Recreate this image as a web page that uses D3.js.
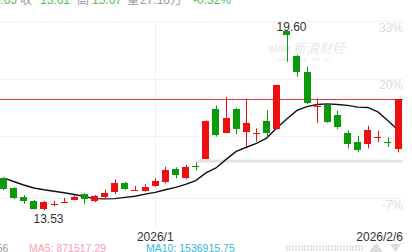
<!DOCTYPE html>
<html>
<head>
<meta charset="utf-8">
<script src="https://cdn.jsdelivr.net/npm/d3@7"></script>
<style>
html, body { margin: 0; padding: 0; background: #fff; overflow: hidden; }
svg { display: block; font-family: Arial, "Liberation Sans", "Noto Sans CJK SC", sans-serif; }
</style>
</head>
<body>
<script>
// trading days shown (40 sessions)
const dates = [
    "2025-12-11", "2025-12-12", "2025-12-15", "2025-12-16", "2025-12-17", "2025-12-18", "2025-12-19",
    "2025-12-22", "2025-12-23", "2025-12-24", "2025-12-25", "2025-12-26", "2025-12-29", "2025-12-30", "2025-12-31",
    "2026-01-05", "2026-01-06", "2026-01-07", "2026-01-08", "2026-01-09", "2026-01-12", "2026-01-13", "2026-01-14",
    "2026-01-15", "2026-01-16", "2026-01-19", "2026-01-20", "2026-01-21", "2026-01-22", "2026-01-23", "2026-01-26",
    "2026-01-27", "2026-01-28", "2026-01-29", "2026-01-30", "2026-02-02", "2026-02-03", "2026-02-04", "2026-02-05",
    "2026-02-06"
];
const open = [14.62, 14.29, 13.98, 13.85, 13.58, 13.73, 13.81, 13.88, 14.09, 13.85, 13.99, 14.13, 14.47, 14.20, 14.20,
    14.37, 14.50, 14.93, 14.62, 15.05, 15.27, 16.97, 16.16, 16.97, 16.20, 16.15, 16.56, 16.28, 19.60, 18.77,
    18.21, 17.05, 17.10, 16.76, 16.16, 15.86, 15.77, 16.02, 15.84, 15.61];
const high = [14.63, 14.32, 14.05, 13.88, 13.85, 13.86, 13.95, 14.05, 14.11, 14.05, 14.24, 14.58, 14.50, 14.36, 14.42,
    14.62, 15.01, 14.99, 15.07, 15.16, 16.58, 17.09, 17.38, 17.00, 17.31, 16.31, 16.93, 17.79, 19.60, 18.80,
    18.40, 17.33, 17.12, 16.91, 16.25, 16.06, 16.40, 16.23, 16.00, 17.31];
const low = [14.22, 13.92, 13.75, 13.56, 13.53, 13.66, 13.78, 13.87, 13.74, 13.81, 13.94, 14.08, 14.22, 14.20, 14.16,
    14.33, 14.45, 14.62, 14.59, 14.88, 15.26, 16.03, 16.14, 16.11, 15.69, 15.86, 16.03, 16.27, 18.57, 18.06,
    17.13, 16.49, 16.50, 16.29, 15.63, 15.50, 15.63, 15.84, 15.68, 15.50];
const close = [14.25, 13.95, 13.85, 13.59, 13.83, 13.75, 13.83, 13.99, 13.91, 14.02, 14.11, 14.45, 14.28, 14.22, 14.33,
    14.53, 14.90, 14.71, 14.99, 15.03, 16.56, 16.09, 16.67, 16.29, 16.50, 16.17, 16.14, 17.78, 19.45, 18.23,
    17.16, 17.07, 16.54, 16.37, 15.80, 15.58, 16.25, 16.03, 15.80, 17.30];
const ma10 = [14.63, 14.51, 14.39, 14.29, 14.23, 14.18, 14.13, 14.07, 14.00, 13.93, 13.92, 13.93, 13.97, 14.01, 14.08,
    14.14, 14.23, 14.31, 14.41, 14.54, 14.80, 14.97, 15.26, 15.53, 15.67, 15.80, 15.98, 16.32, 16.63, 16.92,
    17.05, 17.12, 17.14, 17.12, 17.09, 17.03, 17.02, 16.87, 16.57, 16.25];

const basePrice = 15.0;
const pctTicks = [33, 20, 7, -7];
const tickDates = ["2026-01-05"];
const tickLabels = ["2026/1"];
const lastLabel = "2026/2/6";
const bandPrice = 15.25;
const header = [
    { t: "15.65", c: "#55bb55" }, { t: "收", c: "#999" }, { t: "15.61", c: "#55bb55" },
    { t: "高", c: "#999" }, { t: "15.67", c: "#55bb55" }, { t: "量", c: "#999" },
    { t: "27.16万", c: "#999" }, { t: "-0.32%", c: "#55bb55" }
];
const headerX = [-13, 20, 40, 77, 92, 127, 140, 193];
const legend = [
    { t: "VOL: 456", c: "#999" }, { t: "MA5: 871517.29", c: "#f8a0b4" }, { t: "MA10: 1536915.75", c: "#35b8dc" }
];
const legendX = [-36, 29, 146];

const width = 412;
const height = 252;
const plotTop = 21, plotBottom = 228, plotRight = 403;
const up = "#ee1010", down = "#0a9a0a";

const svg = d3.select("body").append("svg")
    .attr("width", width)
    .attr("height", height);

const x = d3.scaleBand()
    .domain(dates)
    .range([-1.6, 403.2])
    .paddingInner(0.3)
    .paddingOuter(0.15);

const y = d3.scaleLinear()
    .domain([basePrice * 0.93, basePrice * 1.33])
    .range([198, plotTop]);

const cx = d => Math.round(x(d) + x.bandwidth() / 2) + 0.5;

// grid
svg.append("g").selectAll("line")
    .data(pctTicks)
    .enter().append("line")
    .attr("x1", 0).attr("x2", plotRight)
    .attr("y1", d => Math.round(y(basePrice * (1 + d / 100))) + 0.5)
    .attr("y2", d => Math.round(y(basePrice * (1 + d / 100))) + 0.5)
    .attr("stroke", "#f0f0f0");

svg.append("g").selectAll("line")
    .data(tickDates)
    .enter().append("line")
    .attr("x1", cx).attr("x2", cx)
    .attr("y1", plotTop).attr("y2", plotBottom)
    .attr("stroke", "#f0f0f0");

svg.append("g").selectAll("text")
    .data(pctTicks)
    .enter().append("text")
    .attr("x", plotRight)
    .attr("y", d => y(basePrice * (1 + d / 100)) + 10.5)
    .attr("text-anchor", "end")
    .attr("font-size", 12)
    .attr("fill", "#dcdcdc")
    .text(d => d + "%");

// watermark
const wm = svg.append("g").attr("fill", "#e9e9e9");
wm.append("text").attr("x", 268).attr("y", 52).attr("font-size", 11)
    .attr("font-style", "italic").attr("font-weight", "bold").text("sina");
wm.append("text").attr("x", 293).attr("y", 53).attr("font-size", 13)
    .attr("font-style", "italic").attr("font-family", "'Noto Sans CJK SC', sans-serif").text("新浪财经");
wm.append("text").attr("x", 277).attr("y", 61).attr("font-size", 5).text("finance . sina . com . cn");

// last close line
svg.append("line")
    .attr("x1", 0).attr("x2", plotRight)
    .attr("y1", Math.round(y(close[close.length - 1])) + 0.5)
    .attr("y2", Math.round(y(close[close.length - 1])) + 0.5)
    .attr("stroke", "#e5343e");

svg.append("rect")
    .attr("x", cx(dates[19]))
    .attr("y", y(bandPrice))
    .attr("width", plotRight - cx(dates[19]))
    .attr("height", 3)
    .attr("fill", "#e2e2e2");

// MA10
const line = d3.line()
    .x((d, i) => x(dates[i]) + x.bandwidth() / 2)
    .y(d => y(d));

svg.append("path")
    .datum(ma10)
    .attr("d", line)
    .attr("fill", "none")
    .attr("stroke", "#111")
    .attr("stroke-width", 1.4);

// candles
const candles = dates.map((d, i) => ({ d: d, o: open[i], h: high[i], l: low[i], c: close[i] }));

const g = svg.append("g").selectAll("g")
    .data(candles)
    .enter().append("g");

g.append("line")
    .attr("x1", d => cx(d.d)).attr("x2", d => cx(d.d))
    .attr("y1", d => y(d.h)).attr("y2", d => y(d.l))
    .attr("stroke", d => d.c >= d.o ? up : down);

g.append("rect")
    .attr("x", d => Math.round(x(d.d)))
    .attr("width", Math.round(x.bandwidth()))
    .attr("y", d => Math.round(y(Math.max(d.o, d.c))))
    .attr("height", d => Math.max(1, Math.round(Math.abs(y(d.o) - y(d.c)))))
    .attr("fill", d => d.c >= d.o ? up : down)
    .attr("shape-rendering", "crispEdges");

// max / min labels
const iMax = d3.maxIndex(high), iMin = d3.minIndex(low);
svg.append("text")
    .attr("x", cx(dates[iMax]) + 4).attr("y", y(high[iMax]))
    .attr("text-anchor", "middle").attr("font-size", 12).attr("fill", "#333")
    .text(high[iMax].toFixed(2));
svg.append("text")
    .attr("x", cx(dates[iMin]) + 4).attr("y", y(low[iMin]) + 13)
    .attr("text-anchor", "middle").attr("font-size", 12).attr("fill", "#333")
    .text(low[iMin].toFixed(2));

// date labels
svg.append("g").selectAll("text")
    .data(tickDates)
    .enter().append("text")
    .attr("x", d => x(d) + x.bandwidth() / 2)
    .attr("y", 241)
    .attr("text-anchor", "middle").attr("font-size", 12).attr("fill", "#333")
    .text((d, i) => tickLabels[i]);
svg.append("text")
    .attr("x", plotRight).attr("y", 241)
    .attr("text-anchor", "end").attr("font-size", 12).attr("fill", "#333")
    .text(lastLabel);

// header (clipped at the top)
const ht = svg.append("text").attr("y", 4).attr("font-size", 12);
ht.selectAll("tspan")
    .data(header)
    .enter().append("tspan")
    .attr("x", (d, i) => headerX[i])
    .attr("fill", d => d.c)
    .text(d => d.t);

// volume legend (clipped at the bottom)
const lt = svg.append("text").attr("y", 251.5).attr("font-size", 10.5);
lt.selectAll("tspan")
    .data(legend)
    .enter().append("tspan")
    .attr("x", (d, i) => legendX[i])
    .attr("fill", d => d.c)
    .text(d => d.t);

// scroll widget
[246.5, 249.5].forEach(yy => {
    svg.append("line")
        .attr("x1", 286).attr("x2", 363).attr("y1", yy).attr("y2", yy)
        .attr("stroke", "#dcdcdc").attr("stroke-width", 2).attr("stroke-dasharray", "2,1");
});
svg.append("path").attr("d", "M369,252L376,243L383,252Z").attr("fill", "#dcdcdc");
svg.append("path").attr("d", "M390,244L401,244L395.5,252Z").attr("fill", "#dcdcdc");
</script>
</body>
</html>
